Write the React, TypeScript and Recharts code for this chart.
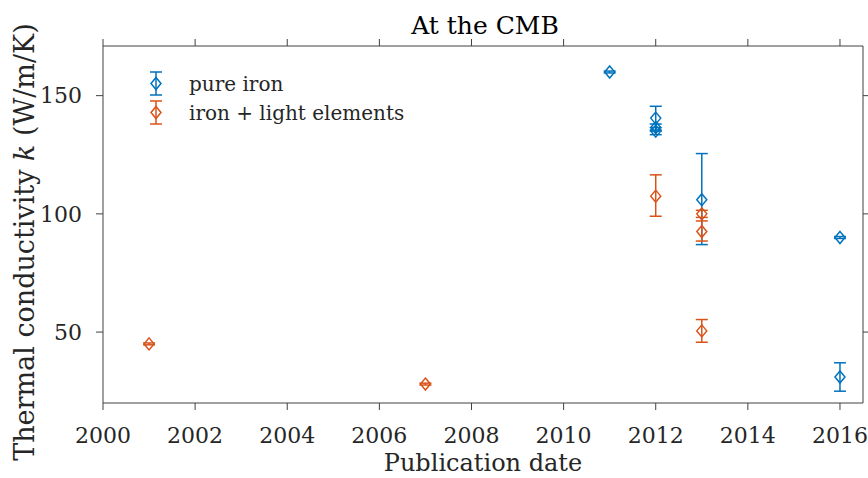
import React from "react"
import {
  ScatterChart,
  Scatter,
  XAxis,
  YAxis,
  ErrorBar,
  Legend
} from "recharts"

// pure iron
const pureYears = [2011, 2012, 2012, 2012, 2013, 2016, 2016]
const pureValues = [160, 140.5, 136.5, 135, 106, 90, 31]
const pureErrLow = [0.4, 5, 1.5, 1.5, 19, 0.4, 6]
const pureErrHigh = [0.4, 5, 1.5, 1.5, 19.5, 0.4, 6]

// iron + light elements
const lightYears = [2001, 2007, 2012, 2013, 2013, 2013]
const lightValues = [45, 28, 107.5, 100, 92.5, 50.5]
const lightErrLow = [0.4, 0.4, 8.5, 1.5, 4, 4.8]
const lightErrHigh = [0.4, 0.4, 9, 1.5, 4.5, 4.8]

const xTicks = [2000, 2002, 2004, 2006, 2008, 2010, 2012, 2014, 2016]
const yTicks = [50, 100, 150]

const BLUE = "#0072BD"
const ORANGE = "#D95319"
const AXIS = "#404040"
const TEXT = "#262626"
const FONT = "'DejaVu Serif', serif"

const pureData = pureYears.map((x, i) => ({
  x,
  y: pureValues[i],
  err: [pureErrLow[i], pureErrHigh[i]]
}))

const lightData = lightYears.map((x, i) => ({
  x,
  y: lightValues[i],
  err: [lightErrLow[i], lightErrHigh[i]]
}))

const diamond = (color: string) => (props: any) => {
  const { cx, cy } = props
  if (cx == null || cy == null) return <g />
  return (
    <path
      d={`M${cx},${cy - 6}L${cx + 5},${cy}L${cx},${cy + 6}L${cx - 5},${cy}Z`}
      fill="none"
      stroke={color}
      strokeWidth={1.5}
    />
  )
}

// ticks without labels (keeps the tick lines)
const noLabel = () => <g />

const LegendIcon = ({ color }: { color: string }) => (
  <svg width={20} height={29}>
    <line x1={10} y1={3} x2={10} y2={26} stroke={color} strokeWidth={1.5} />
    <line x1={4} y1={3} x2={16} y2={3} stroke={color} strokeWidth={1.5} />
    <line x1={4} y1={26} x2={16} y2={26} stroke={color} strokeWidth={1.5} />
    <path d="M10,8.5L15,14.5L10,20.5L5,14.5Z" fill="none" stroke={color} strokeWidth={1.5} />
  </svg>
)

const renderLegend = () => (
  <div style={{ fontFamily: FONT, fontSize: 20, color: TEXT }}>
    {[
      { name: "pure iron", color: BLUE },
      { name: "iron + light elements", color: ORANGE }
    ].map((e) => (
      <div key={e.name} style={{ display: "flex", alignItems: "center", height: 29 }}>
        <LegendIcon color={e.color} />
        <span style={{ marginLeft: 23 }}>{e.name}</span>
      </div>
    ))}
  </div>
)

const XLabel = (props: any) => {
  const { viewBox } = props
  return (
    <text
      x={viewBox.x + viewBox.width / 2}
      y={471}
      textAnchor="middle"
      fontFamily={FONT}
      fontSize={24}
      fill={TEXT}
    >
      Publication date
    </text>
  )
}

const YLabel = () => (
  <text
    x={34}
    y={242}
    transform="rotate(-90 34 242)"
    textAnchor="middle"
    fontFamily={FONT}
    fontSize={27}
    fill={TEXT}
  >
    Thermal conductivity <tspan fontStyle="italic">k</tspan> (W/m/K)
  </text>
)

export default function App() {
  const tickStyle = { fontFamily: FONT, fontSize: 22, fill: TEXT }
  return (
    <div style={{ position: "absolute", left: 0, top: 0, width: 868, height: 478, background: "#fff" }}>
      <div
        style={{
          position: "absolute",
          left: 335,
          width: 300,
          top: 13,
          textAlign: "center",
          fontFamily: FONT,
          fontSize: 25,
          lineHeight: 1,
          color: "#000"
        }}
      >
        At the CMB
      </div>

      <ScatterChart
        width={868}
        height={478}
        margin={{ top: 45, right: 4, bottom: 0, left: 0 }}
      >
        <XAxis
          type="number"
          dataKey="x"
          domain={[2000, 2016.5]}
          ticks={xTicks}
          allowDataOverflow
          height={75}
          stroke={AXIS}
          tickSize={7}
          tickMargin={17}
          tick={tickStyle}
          label={<XLabel />}
        />
        <XAxis
          xAxisId="top"
          orientation="top"
          type="number"
          dataKey="x"
          domain={[2000, 2016.5]}
          ticks={xTicks}
          allowDataOverflow
          height={1}
          stroke={AXIS}
          tickSize={7}
          tick={noLabel}
        />
        <YAxis
          type="number"
          dataKey="y"
          domain={[20, 171]}
          ticks={yTicks}
          allowDataOverflow
          width={103}
          stroke={AXIS}
          tickSize={7}
          tickMargin={14}
          tick={tickStyle}
          label={<YLabel />}
        />
        <YAxis
          yAxisId="right"
          orientation="right"
          type="number"
          dataKey="y"
          domain={[20, 171]}
          ticks={yTicks}
          allowDataOverflow
          width={1}
          stroke={AXIS}
          tickSize={7}
          tick={noLabel}
        />

        <Legend
          layout="vertical"
          align="center"
          verticalAlign="middle"
          content={renderLegend}
          wrapperStyle={{ left: 146, top: 69, width: 320 }}
        />

        {/* invisible series so the top and right frame axes get drawn */}
        <Scatter
          xAxisId="top"
          yAxisId="right"
          data={pureData}
          shape={() => <g />}
          legendType="none"
          isAnimationActive={false}
        />

        <Scatter
          name="pure iron"
          data={pureData}
          shape={diamond(BLUE)}
          isAnimationActive={false}
        >
          <ErrorBar dataKey="err" direction="y" width={6} stroke={BLUE} strokeWidth={1.5} />
        </Scatter>
        <Scatter
          name="iron + light elements"
          data={lightData}
          shape={diamond(ORANGE)}
          isAnimationActive={false}
        >
          <ErrorBar dataKey="err" direction="y" width={6} stroke={ORANGE} strokeWidth={1.5} />
        </Scatter>
      </ScatterChart>
    </div>
  )
}
